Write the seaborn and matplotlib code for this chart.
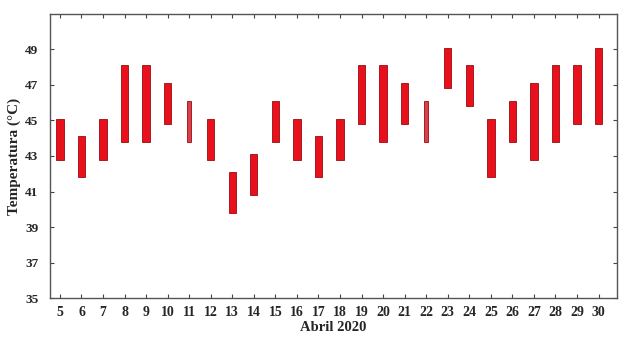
import matplotlib
matplotlib.use("Agg")
import matplotlib.pyplot as plt
import seaborn as sns
import numpy as np

days = list(range(5, 31))
t_min = [42.8, 41.8, 42.8, 43.8, 43.8, 44.8, 43.8, 42.8, 39.8, 40.8, 43.8, 42.8, 41.8,
         42.8, 44.8, 43.8, 44.8, 43.8, 46.8, 45.8, 41.8, 43.8, 42.8, 43.8, 44.8, 44.8]
t_max = [45.1, 44.1, 45.1, 48.1, 48.1, 47.1, 46.1, 45.1, 42.1, 43.1, 46.1, 45.1, 44.1,
         45.1, 48.1, 48.1, 47.1, 46.1, 49.1, 48.1, 45.1, 46.1, 47.1, 48.1, 48.1, 49.1]
thin_days = [11, 22]
y_ticks = [35, 37, 39, 41, 43, 45, 47, 49]

sns.set_style("ticks")
plt.rcParams['font.family'] = ['Liberation Serif', 'DejaVu Serif']
plt.rcParams['font.weight'] = 'bold'

fig = plt.figure(figsize=(6.2, 3.38), dpi=100)
ax = fig.add_axes([0.081, 0.118, 0.914, 0.841])

lows = np.array(t_min)
highs = np.array(t_max)
widths = [0.2 if d in thin_days else 0.34 for d in days]
colors = ['#d8404a' if d in thin_days else '#e8101a' for d in days]
ax.bar(days, highs - lows, bottom=lows, width=widths, color=colors,
       edgecolor='#9a0a10', linewidth=0.6)

ax.set_xlim(4.55, 30.85)
ax.set_ylim(35, 51)
ax.set_xticks(days)
ax.set_xticklabels([str(d) for d in days], fontsize=10, fontweight='bold')
ax.set_yticks(y_ticks)
ax.set_yticklabels([str(v) for v in y_ticks], fontsize=9.5, fontweight='bold')
ax.tick_params(direction='in', top=True, right=True, length=3, width=0.8,
               color='#444444')
ax.tick_params(axis='x', pad=6)
ax.tick_params(axis='y', pad=8.5)
for s in ax.spines.values():
    s.set_visible(True)
    s.set_color('#555555')
    s.set_linewidth(1.0)
ax.set_xlabel('Abril 2020', fontsize=10.5, fontweight='bold', labelpad=1)
ax.set_ylabel('Temperatura (°C)', fontsize=11, fontweight='bold', labelpad=3)

fig.savefig('out.png', dpi=100)
